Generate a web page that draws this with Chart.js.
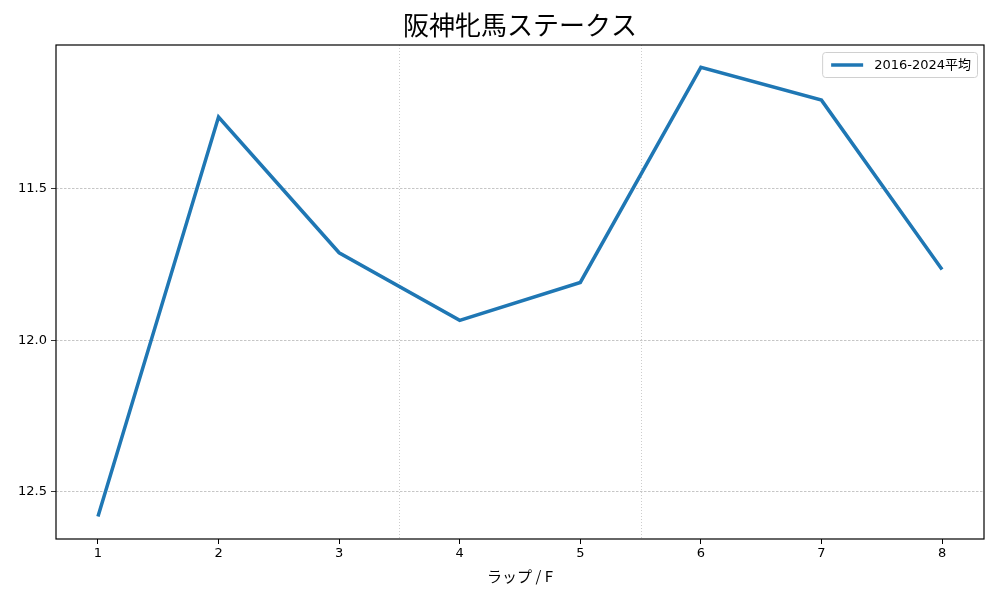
<!DOCTYPE html>
<html><head><meta charset="utf-8">
<script src="https://cdn.jsdelivr.net/npm/chart.js@4"></script>
<style>html,body{margin:0;padding:0;background:#fff}#wrap{width:1000px;height:600px}</style>
</head><body><div id="wrap"><canvas id="c" width="1000" height="600"></canvas></div>
<script>
const laps = [1,2,3,4,5,6,7,8];
const avg = [12.582, 11.263, 11.711, 11.934, 11.809, 11.099, 11.207, 11.766];
const yTicks = [11.5, 12.0, 12.5];
const vLines = [3.5, 5.5];
const titleText = '阪神牝馬ステークス';
const seriesName = '2016-2024平均';
const xTitle = 'ラップ / F';
const FONT = '"Noto Sans CJK JP", "DejaVu Sans", sans-serif';
const LFONT = '"DejaVu Sans", "Noto Sans CJK JP", sans-serif';

const framePlugin = {
  id: 'frame',
  beforeDatasetsDraw(chart) {
    const {ctx, chartArea: a, scales: {x}} = chart;
    ctx.save();
    ctx.strokeStyle = '#c0c0c0'; ctx.lineWidth = 0.8; ctx.setLineDash([1, 2]);
    vLines.forEach(v => { const px = Math.round(x.getPixelForValue(v)) + 0.5;
      ctx.beginPath(); ctx.moveTo(px, a.top); ctx.lineTo(px, a.bottom); ctx.stroke(); });
    ctx.restore();
  },
  afterDraw(chart) {
    const {ctx, chartArea: a} = chart;
    ctx.save();
    ctx.strokeStyle = '#000'; ctx.lineWidth = 1.2;
    ctx.strokeRect(a.left, a.top, a.right - a.left, a.bottom - a.top);
    ctx.fillStyle = '#000'; ctx.font = '26px ' + FONT; ctx.textAlign = 'center'; ctx.textBaseline = 'middle';
    ctx.fillText(titleText, (a.left + a.right) / 2, 25);
    ctx.font = '13px ' + LFONT; ctx.textAlign = 'left';
    const tw = ctx.measureText(seriesName).width;
    const bw = 52 + tw + 6, bx = a.right - 7 - bw, by = 52, bh = 25;
    ctx.fillStyle = 'rgba(255,255,255,0.8)'; ctx.strokeStyle = '#d0d0d0'; ctx.lineWidth = 1;
    ctx.beginPath(); ctx.roundRect(bx + 0.5, by + 0.5, bw, bh, 3); ctx.fill(); ctx.stroke();
    ctx.strokeStyle = '#1f77b4'; ctx.lineWidth = 3.5;
    ctx.beginPath(); ctx.moveTo(bx + 9, by + 13); ctx.lineTo(bx + 41, by + 13); ctx.stroke();
    ctx.fillStyle = '#000'; ctx.fillText(seriesName, bx + 52, by + 13.5);
    ctx.restore();
  }
};

new Chart(document.getElementById('c'), {
  type: 'line',
  data: { datasets: [{ label: seriesName, data: laps.map((l, i) => ({x: l, y: avg[i]})),
    borderColor: '#1f77b4', borderWidth: 3.5, pointRadius: 0, tension: 0, fill: false }] },
  options: {
    responsive: false, animation: false, devicePixelRatio: 1,
    layout: { padding: { top: 45, right: 16, left: 0, bottom: 0 } },
    plugins: { legend: { display: false }, title: { display: false }, tooltip: { enabled: false } },
    scales: {
      x: { type: 'linear', min: 0.652, max: 8.348,
        afterBuildTicks: s => { s.ticks = laps.map(v => ({value: v})); },
        afterFit: s => { s.height = 61; },
        grid: { drawOnChartArea: false, drawTicks: true, tickLength: 5, tickColor: '#000' },
        border: { display: false },
        ticks: { color: '#000', font: { family: LFONT, size: 13 }, padding: 2, maxRotation: 0, callback: v => String(v) },
        title: { display: true, text: xTitle, color: '#000', font: { family: FONT, size: 15 }, padding: { top: 0, bottom: 15 } }
      },
      y: { type: 'linear', reverse: true, min: 11.025, max: 12.656,
        afterBuildTicks: s => { s.ticks = yTicks.map(v => ({value: v})); },
        afterFit: s => { s.width = 56; },
        grid: { color: '#b8b8b8', lineWidth: 0.8, tickColor: '#000', tickLength: 5, drawTicks: true },
        border: { display: false, dash: [2.5, 1.5] },
        ticks: { color: '#000', font: { family: LFONT, size: 13 }, padding: 4, callback: v => v.toFixed(1) }
      }
    }
  },
  plugins: [framePlugin]
});
</script></body></html>
